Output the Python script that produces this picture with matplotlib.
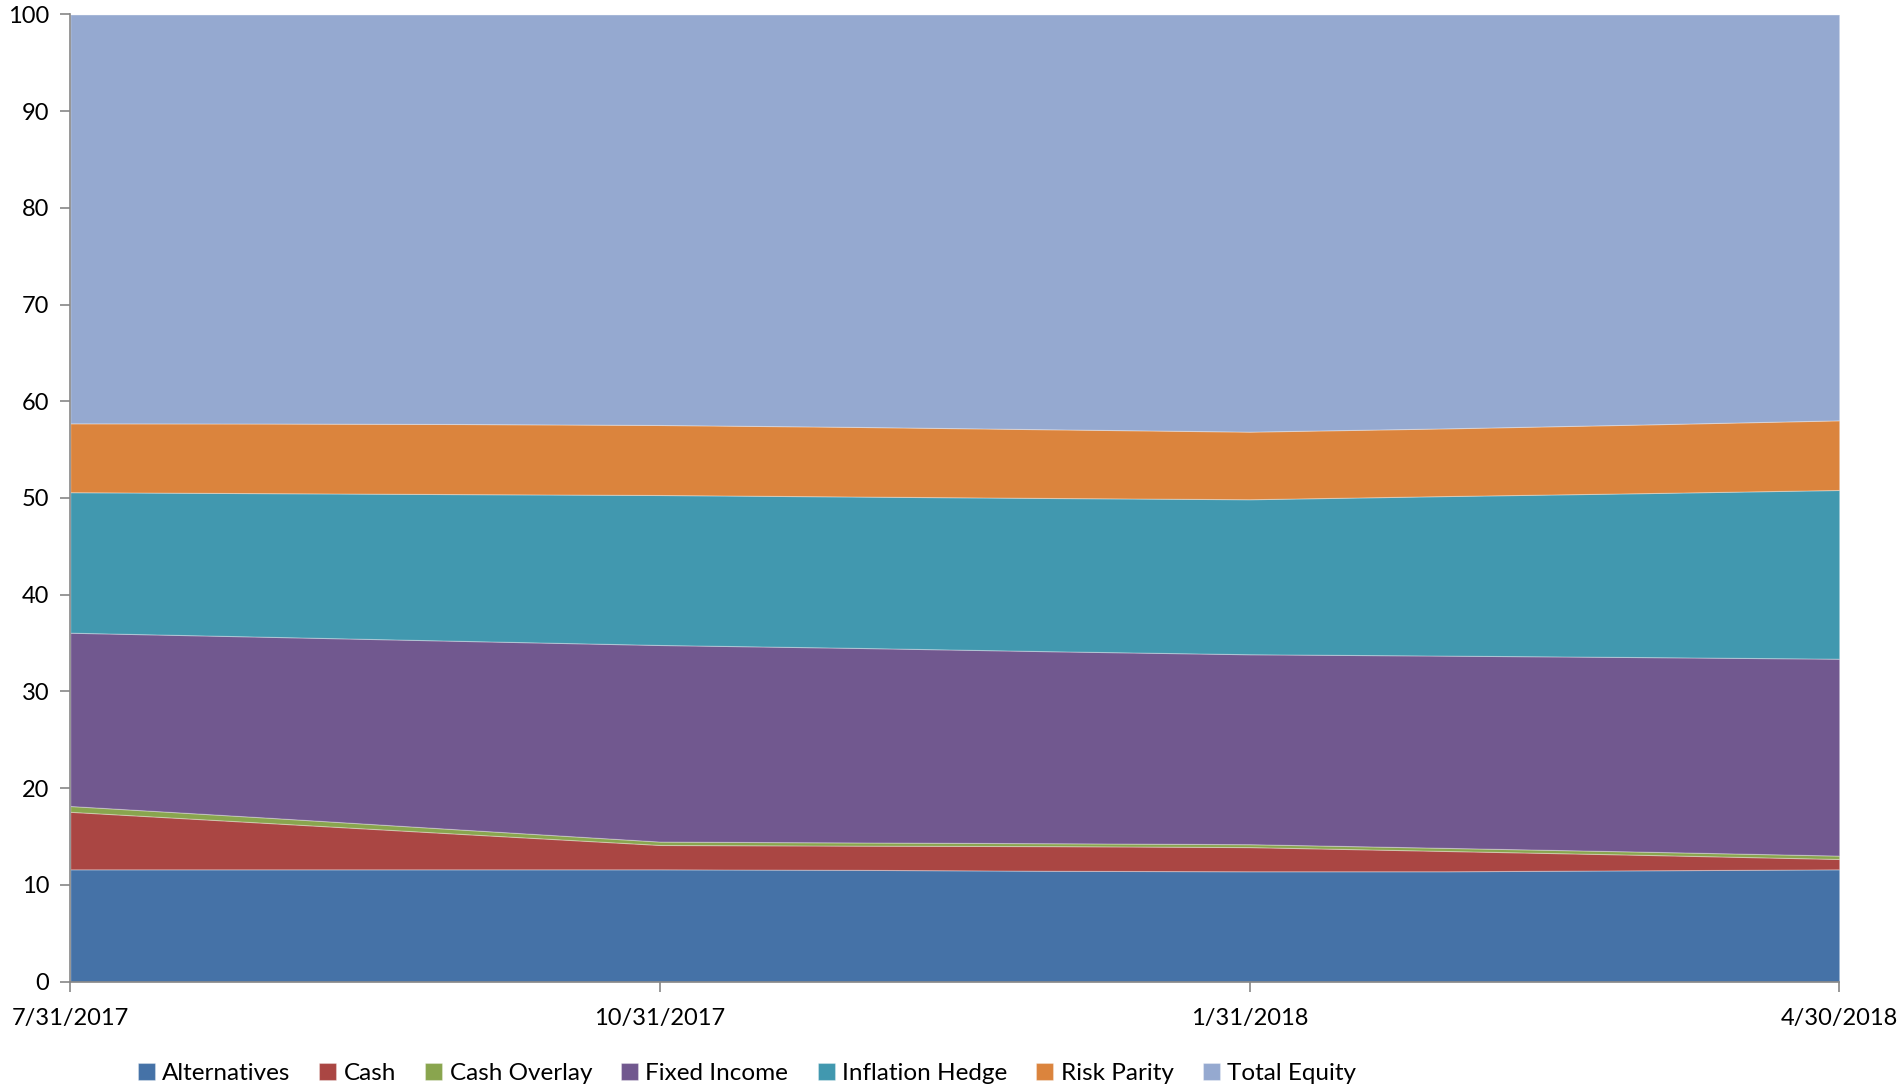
import matplotlib
matplotlib.use("Agg")
import matplotlib.pyplot as plt
import numpy as np

# month-end dates shown as equally spaced categories
months = ["7/31/2017", "8/31/2017", "9/30/2017", "10/31/2017", "11/30/2017",
          "12/31/2017", "1/31/2018", "2/28/2018", "3/31/2018", "4/30/2018"]
tick_idx = [0, 3, 6, 9]

# allocation (%) per asset class
alternatives = [11.60, 11.60, 11.60, 11.60, 11.55, 11.45, 11.40, 11.40, 11.50, 11.60]
cash = [5.95, 4.80, 3.65, 2.52, 2.50, 2.55, 2.50, 2.10, 1.60, 1.07]
cash_overlay = [0.60, 0.55, 0.45, 0.35, 0.33, 0.30, 0.30, 0.32, 0.33, 0.35]
fixed_income = [17.92, 18.70, 19.52, 20.33, 20.12, 19.85, 19.64, 19.88, 20.12, 20.36]
inflation_hedge = [14.53, 14.85, 15.18, 15.51, 15.65, 15.85, 16.03, 16.50, 16.95, 17.45]
risk_parity = [7.12, 7.20, 7.25, 7.24, 7.20, 7.10, 6.99, 7.00, 7.10, 7.20]
total_equity = [42.28, 42.30, 42.35, 42.45, 42.65, 42.90, 43.14, 42.80, 42.40, 41.97]

labels = ["Alternatives", "Cash", "Cash Overlay", "Fixed Income",
          "Inflation Hedge", "Risk Parity", "Total Equity"]
colors = ["#4572A7", "#AA4643", "#89A54E", "#71588F", "#4198AF", "#DB843D", "#95A9D0"]

plt.rcParams['font.family'] = ['Lato', 'DejaVu Sans']

fig = plt.figure(figsize=(19, 10.89), dpi=100)
ax = fig.add_axes([0.037, 0.0987, 0.931, 0.888])

x = np.arange(len(months))
ax.stackplot(x, alternatives, cash, cash_overlay, fixed_income, inflation_hedge,
             risk_parity, total_equity, labels=labels, colors=colors,
             edgecolor=(1, 1, 1, 0.3), linewidth=0.8)

ax.set_xlim(0, len(months) - 1)
ax.set_ylim(0, 100)
ax.set_yticks(range(0, 101, 10))
ax.set_xticks(tick_idx)
ax.set_xticklabels([months[i] for i in tick_idx])

for s in ["top", "right"]:
    ax.spines[s].set_visible(False)
for s in ["left", "bottom"]:
    ax.spines[s].set_color("#868686")
    ax.spines[s].set_linewidth(1.2)
ax.tick_params(axis="both", colors="#868686", labelcolor="black", labelsize=17,
               length=7, width=1.2, direction="out")
ax.tick_params(axis="y", pad=8)
ax.tick_params(axis="x", pad=12)

leg = fig.legend(loc="center", bbox_to_anchor=(0.393, 0.0142), ncol=7, frameon=False,
                 fontsize=17.5, handlelength=0.7, handleheight=0.7, handletextpad=0.3,
                 columnspacing=1.2)

fig.savefig("out.png", dpi=100)
